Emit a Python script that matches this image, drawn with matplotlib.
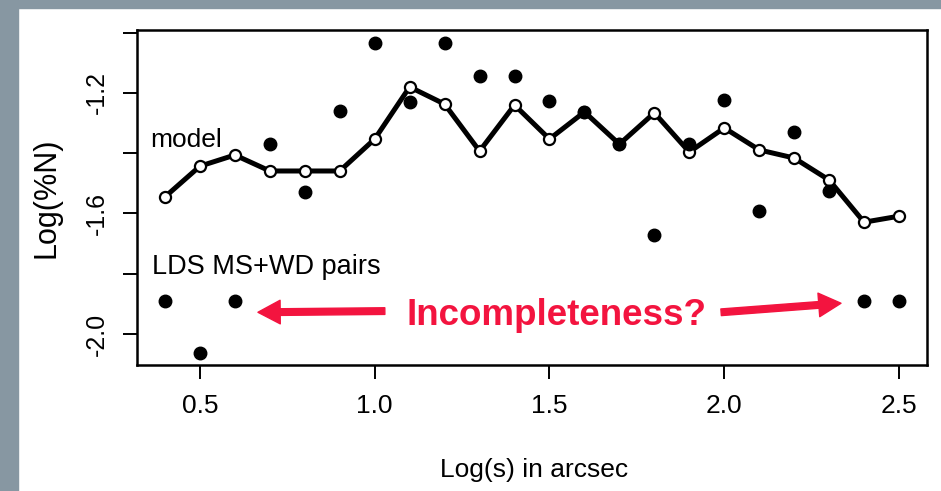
import matplotlib
matplotlib.use("Agg")
import matplotlib.pyplot as plt
from matplotlib.patches import Rectangle

plt.rcParams["font.family"] = ["Liberation Sans", "DejaVu Sans"]

# log separation (arcsec)
log_s = [0.4, 0.5, 0.6, 0.7, 0.8, 0.9, 1.0, 1.1, 1.2, 1.3, 1.4,
         1.5, 1.6, 1.7, 1.8, 1.9, 2.0, 2.1, 2.2, 2.3, 2.4, 2.5]

# model curve, log(%N)
model = [-1.545, -1.443, -1.406, -1.459, -1.459, -1.459, -1.353, -1.180,
         -1.237, -1.393, -1.240, -1.353, -1.263, -1.370, -1.266, -1.396,
         -1.316, -1.389, -1.416, -1.489, -1.629, -1.609]

# LDS MS+WD pairs, log(%N)
observed = [-1.891, -2.064, -1.891, -1.370, -1.529, -1.260, -1.034, -1.230,
            -1.034, -1.144, -1.144, -1.227, -1.263, -1.370, -1.672, -1.370,
            -1.223, -1.592, -1.330, -1.525, -1.891, -1.891]

x_ticks = [0.5, 1.0, 1.5, 2.0, 2.5]
x_ticklabels = ["0.5", "1.0", "1.5", "2.0", "2.5"]
y_ticks = [-2.0, -1.8, -1.6, -1.4, -1.2, -1.0]
y_ticklabels = ["-2.0", "", "-1.6", "", "-1.2", ""]

RED = "#f3143f"

fig = plt.figure(figsize=(9.41, 4.91), dpi=100, facecolor="white")

# slide border
W, H = 941, 491
fig.add_artist(Rectangle((0, 0), 18 / W, 1, transform=fig.transFigure,
                         color="#8797a2", zorder=0))
fig.add_artist(Rectangle((0, 1 - 8 / H), 1, 8 / H, transform=fig.transFigure,
                         color="#8797a2", zorder=0))

ax = fig.add_axes([137 / W, 1 - 365 / H, (927 - 137) / W, (365 - 30) / H])

ax.plot(log_s, model, color="black", lw=3.6, marker="o", ms=8,
        mfc="white", mec="black", mew=1.6, zorder=2)
ax.plot(log_s, observed, "o", color="black", ms=9, zorder=3)

ax.set_xlim(0.32, 2.58)
ax.set_ylim(-2.103, -0.991)

ax.set_xticks(x_ticks)
ax.set_xticklabels(x_ticklabels)
ax.set_yticks(y_ticks)
ax.set_yticklabels(y_ticklabels, rotation=90, va="center")

ax.tick_params(axis="both", direction="out", length=10, width=1.4,
               colors="black")
ax.tick_params(axis="x", pad=11, labelsize=19)
ax.tick_params(axis="y", pad=10, labelsize=18)
for sp in ax.spines.values():
    sp.set_linewidth(1.8)

ax.text(0.357, -1.379, "model", fontsize=19, va="baseline", ha="left")
ax.text(0.363, -1.801, "LDS MS+WD pairs", fontsize=19.5, va="baseline", ha="left")
ax.text(1.091, -1.971, "Incompleteness?", fontsize=26.5, fontweight="bold",
        color=RED, va="baseline", ha="left")

arrow = dict(arrowstyle="simple,head_length=0.8,head_width=0.85,tail_width=0.24",
             mutation_scale=20, color=RED, shrinkA=0, shrinkB=0)
ax.annotate("", xy=(0.666, -1.928), xytext=(1.029, -1.924), arrowprops=arrow)
ax.annotate("", xy=(2.334, -1.898), xytext=(1.991, -1.928), arrowprops=arrow)

fig.text(534 / W, 1 - 470 / H, "Log(s) in arcsec", fontsize=19,
         ha="center", va="center")
fig.text(47 / W, 1 - 198 / H, "Log(%N)", fontsize=22, rotation=90,
         ha="center", va="center")

fig.savefig("out.png", dpi=100, facecolor=fig.get_facecolor())
